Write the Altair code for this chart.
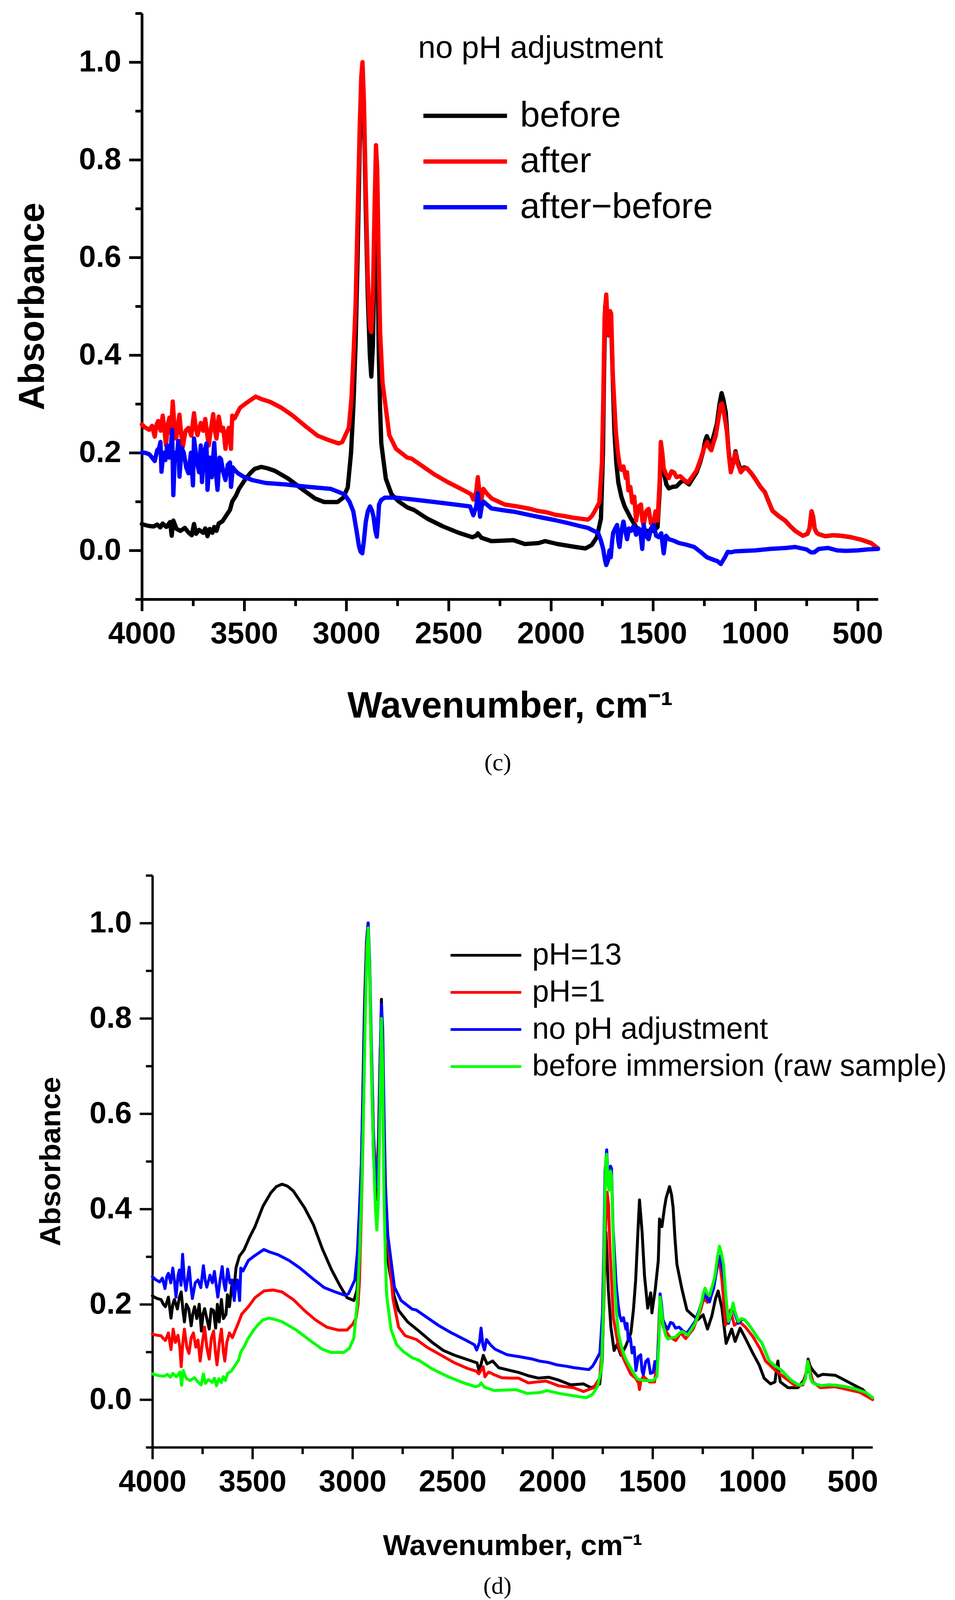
import altair as alt
import pandas as pd

# FTIR spectra: (wavenumber in cm-1, absorbance)
before = [
    (4000, 0.054), (3985, 0.052), (3965, 0.050), (3942, 0.049), (3925, 0.053),
    (3910, 0.047), (3898, 0.055), (3880, 0.048), (3862, 0.058), (3854, 0.030),
    (3846, 0.061), (3830, 0.044), (3811, 0.040), (3790, 0.046), (3770, 0.036),
    (3756, 0.031), (3745, 0.054), (3735, 0.034), (3720, 0.042), (3700, 0.036),
    (3690, 0.045), (3679, 0.029), (3668, 0.044), (3655, 0.036), (3646, 0.048),
    (3635, 0.040), (3624, 0.055), (3605, 0.060), (3591, 0.069), (3569, 0.083),
    (3558, 0.100), (3540, 0.112), (3525, 0.126), (3492, 0.147), (3470, 0.158),
    (3448, 0.167), (3416, 0.171), (3385, 0.168), (3350, 0.163), (3284, 0.147),
    (3218, 0.126), (3152, 0.106), (3108, 0.099), (3043, 0.099), (3015, 0.108),
    (2993, 0.129), (2977, 0.200), (2965, 0.300), (2955, 0.420), (2945, 0.600),
    (2935, 0.820), (2927, 0.950), (2921, 0.990), (2914, 0.900), (2905, 0.700),
    (2895, 0.520), (2885, 0.400), (2878, 0.356), (2870, 0.420), (2862, 0.620),
    (2855, 0.800), (2849, 0.700), (2842, 0.420), (2835, 0.290), (2829, 0.219),
    (2807, 0.147), (2779, 0.115), (2746, 0.101), (2702, 0.088), (2670, 0.083),
    (2604, 0.065), (2527, 0.049), (2450, 0.036), (2384, 0.027), (2365, 0.030),
    (2357, 0.035), (2340, 0.026), (2291, 0.019), (2230, 0.020), (2183, 0.021),
    (2127, 0.013), (2060, 0.015), (2028, 0.019), (1967, 0.013), (1880, 0.007),
    (1831, 0.004), (1800, 0.011), (1775, 0.027), (1755, 0.065), (1745, 0.200),
    (1740, 0.360), (1734, 0.500), (1729, 0.515), (1722, 0.450), (1717, 0.440),
    (1710, 0.480), (1705, 0.470), (1697, 0.350), (1689, 0.243), (1680, 0.180),
    (1670, 0.139), (1655, 0.110), (1639, 0.090), (1608, 0.065), (1577, 0.044),
    (1546, 0.040), (1497, 0.040), (1478, 0.048), (1468, 0.120), (1462, 0.215),
    (1455, 0.190), (1448, 0.160), (1435, 0.135), (1423, 0.127), (1405, 0.130),
    (1386, 0.131), (1365, 0.140), (1349, 0.143), (1324, 0.135), (1305, 0.148),
    (1287, 0.160), (1270, 0.180), (1256, 0.201), (1245, 0.225), (1237, 0.234),
    (1226, 0.222), (1215, 0.218), (1200, 0.240), (1188, 0.259), (1175, 0.300),
    (1165, 0.322), (1157, 0.310), (1145, 0.284), (1132, 0.210), (1120, 0.164),
    (1108, 0.180), (1097, 0.203), (1088, 0.185), (1071, 0.164), (1055, 0.170),
    (1040, 0.168), (1020, 0.158), (1003, 0.148), (975, 0.130), (953, 0.119),
    (935, 0.100), (916, 0.081), (885, 0.070), (854, 0.061), (830, 0.050),
    (805, 0.040), (768, 0.030), (745, 0.034), (735, 0.045), (725, 0.080),
    (718, 0.070), (710, 0.045), (700, 0.036), (688, 0.033), (657, 0.029),
    (620, 0.031), (582, 0.030), (533, 0.027), (483, 0.022), (434, 0.015),
    (400, 0.004),
]

after = [
    (4000, 0.258), (3985, 0.252), (3964, 0.247), (3950, 0.255), (3937, 0.233),
    (3928, 0.258), (3920, 0.265), (3908, 0.245), (3898, 0.276), (3890, 0.250),
    (3882, 0.215), (3872, 0.260), (3865, 0.272), (3857, 0.240), (3849, 0.305),
    (3840, 0.250), (3832, 0.229), (3824, 0.255), (3816, 0.278), (3808, 0.240),
    (3800, 0.212), (3786, 0.245), (3772, 0.251), (3758, 0.235), (3745, 0.281),
    (3736, 0.250), (3728, 0.236), (3712, 0.261), (3700, 0.245), (3690, 0.269),
    (3681, 0.240), (3673, 0.215), (3662, 0.250), (3651, 0.279), (3643, 0.245),
    (3635, 0.229), (3624, 0.274), (3612, 0.245), (3602, 0.251), (3591, 0.208),
    (3583, 0.240), (3575, 0.251), (3564, 0.208), (3558, 0.276), (3547, 0.270),
    (3536, 0.279), (3520, 0.292), (3492, 0.301), (3443, 0.315), (3416, 0.310),
    (3372, 0.304), (3317, 0.292), (3262, 0.276), (3196, 0.253), (3141, 0.235),
    (3087, 0.226), (3037, 0.219), (3020, 0.222), (3010, 0.231), (2988, 0.251),
    (2975, 0.310), (2965, 0.400), (2955, 0.500), (2945, 0.680), (2935, 0.860),
    (2927, 0.970), (2921, 1.000), (2914, 0.920), (2905, 0.740), (2895, 0.560),
    (2885, 0.460), (2878, 0.447), (2870, 0.520), (2862, 0.700), (2855, 0.830),
    (2849, 0.780), (2842, 0.600), (2835, 0.450), (2823, 0.344), (2790, 0.236),
    (2757, 0.208), (2702, 0.190), (2681, 0.188), (2626, 0.172), (2571, 0.156),
    (2505, 0.140), (2439, 0.126), (2390, 0.115), (2379, 0.104), (2365, 0.120),
    (2357, 0.150), (2348, 0.115), (2340, 0.104), (2330, 0.126), (2310, 0.115),
    (2288, 0.106), (2226, 0.094), (2164, 0.090), (2100, 0.085), (2066, 0.081),
    (2020, 0.078), (1979, 0.073), (1930, 0.070), (1893, 0.067), (1818, 0.063),
    (1800, 0.070), (1787, 0.079), (1763, 0.098), (1750, 0.180), (1744, 0.300),
    (1737, 0.480), (1729, 0.524), (1722, 0.460), (1717, 0.440), (1710, 0.490),
    (1705, 0.485), (1697, 0.360), (1682, 0.243), (1672, 0.200), (1664, 0.177),
    (1655, 0.165), (1645, 0.172), (1633, 0.148), (1627, 0.160), (1621, 0.123),
    (1611, 0.130), (1602, 0.098), (1592, 0.110), (1583, 0.061), (1571, 0.090),
    (1559, 0.094), (1552, 0.060), (1546, 0.052), (1534, 0.080), (1522, 0.085),
    (1510, 0.055), (1497, 0.057), (1488, 0.080), (1478, 0.061), (1468, 0.140),
    (1462, 0.222), (1455, 0.200), (1448, 0.168), (1435, 0.155), (1423, 0.148),
    (1410, 0.162), (1398, 0.160), (1385, 0.150), (1367, 0.152), (1350, 0.145),
    (1330, 0.139), (1310, 0.150), (1287, 0.164), (1265, 0.190), (1250, 0.210),
    (1235, 0.222), (1225, 0.210), (1215, 0.205), (1205, 0.220), (1194, 0.234),
    (1180, 0.270), (1170, 0.298), (1163, 0.301), (1155, 0.285), (1145, 0.260),
    (1139, 0.243), (1128, 0.190), (1120, 0.160), (1108, 0.178), (1097, 0.200),
    (1088, 0.180), (1071, 0.160), (1055, 0.168), (1040, 0.168), (1020, 0.158),
    (1003, 0.148), (975, 0.130), (953, 0.119), (935, 0.100), (916, 0.081),
    (885, 0.070), (854, 0.061), (830, 0.050), (805, 0.040), (768, 0.030),
    (745, 0.034), (735, 0.045), (725, 0.080), (718, 0.070), (710, 0.045),
    (700, 0.036), (688, 0.033), (657, 0.029), (620, 0.031), (582, 0.030),
    (533, 0.027), (483, 0.022), (434, 0.015), (400, 0.004),
]

after_minus_before = [
    (4000, 0.200), (3985, 0.200), (3964, 0.197), (3950, 0.190), (3937, 0.183),
    (3925, 0.205), (3915, 0.210), (3909, 0.222), (3904, 0.161), (3895, 0.200),
    (3885, 0.185), (3876, 0.215), (3866, 0.190), (3858, 0.210), (3852, 0.247),
    (3846, 0.113), (3838, 0.200), (3830, 0.185), (3822, 0.224), (3816, 0.151),
    (3805, 0.210), (3795, 0.200), (3783, 0.170), (3772, 0.158), (3760, 0.200),
    (3750, 0.133), (3745, 0.229), (3730, 0.180), (3720, 0.160), (3712, 0.215),
    (3706, 0.140), (3695, 0.200), (3684, 0.219), (3679, 0.124), (3668, 0.190),
    (3658, 0.150), (3646, 0.220), (3638, 0.160), (3630, 0.124), (3620, 0.190),
    (3613, 0.187), (3602, 0.160), (3591, 0.144), (3580, 0.175), (3569, 0.180),
    (3564, 0.130), (3555, 0.170), (3547, 0.165), (3530, 0.158), (3503, 0.151),
    (3460, 0.144), (3394, 0.138), (3295, 0.135), (3185, 0.130), (3076, 0.126),
    (3010, 0.115), (2985, 0.100), (2966, 0.080), (2950, 0.040), (2938, 0.008),
    (2930, -0.003), (2922, -0.006), (2914, 0.020), (2905, 0.058), (2895, 0.080),
    (2884, 0.090), (2875, 0.082), (2867, 0.069), (2858, 0.040), (2851, 0.028),
    (2845, 0.060), (2840, 0.094), (2830, 0.103), (2812, 0.108), (2757, 0.108),
    (2648, 0.103), (2527, 0.097), (2395, 0.090), (2379, 0.072), (2365, 0.090),
    (2357, 0.117), (2346, 0.069), (2338, 0.090), (2330, 0.100), (2291, 0.086),
    (2230, 0.082), (2177, 0.079), (2100, 0.072), (2041, 0.067), (1980, 0.062),
    (1917, 0.056), (1860, 0.050), (1818, 0.046), (1790, 0.040), (1769, 0.036),
    (1755, 0.020), (1744, 0.003), (1735, -0.020), (1729, -0.030), (1720, -0.020),
    (1713, 0.000), (1707, -0.014), (1700, 0.020), (1695, 0.036), (1685, 0.045),
    (1676, 0.052), (1670, 0.020), (1664, 0.007), (1655, 0.040), (1645, 0.059),
    (1636, 0.040), (1627, 0.023), (1618, 0.045), (1608, 0.040), (1595, 0.050),
    (1583, 0.032), (1570, 0.045), (1560, 0.030), (1553, 0.003), (1546, 0.052),
    (1535, 0.030), (1522, 0.023), (1510, 0.045), (1497, 0.052), (1485, 0.030),
    (1472, 0.027), (1460, 0.035), (1448, -0.006), (1437, 0.030), (1423, 0.023),
    (1400, 0.020), (1373, 0.015), (1340, 0.012), (1299, 0.007), (1265, -0.004),
    (1237, -0.014), (1200, -0.020), (1185, -0.022), (1169, -0.028), (1150, -0.015),
    (1135, -0.003), (1120, -0.004), (1100, -0.002), (1052, -0.001), (1000, 0.000),
    (928, 0.003), (850, 0.005), (805, 0.007), (750, 0.002), (728, -0.004),
    (712, -0.004), (690, 0.003), (644, 0.005), (600, 0.000), (558, -0.001),
    (500, 0.000), (450, 0.002), (400, 0.003),
]

ph13 = [
    (4000, 0.218), (3990, 0.215), (3975, 0.212), (3957, 0.210), (3945, 0.200),
    (3935, 0.195), (3920, 0.215), (3907, 0.171), (3898, 0.200), (3890, 0.210),
    (3875, 0.190), (3865, 0.215), (3856, 0.226), (3848, 0.190), (3840, 0.163),
    (3830, 0.200), (3818, 0.190), (3806, 0.155), (3798, 0.180), (3789, 0.195),
    (3778, 0.170), (3766, 0.200), (3755, 0.144), (3747, 0.180), (3739, 0.191),
    (3728, 0.170), (3716, 0.148), (3706, 0.190), (3694, 0.187), (3684, 0.150),
    (3675, 0.200), (3666, 0.163), (3655, 0.210), (3645, 0.170), (3632, 0.179),
    (3625, 0.220), (3615, 0.195), (3600, 0.250), (3590, 0.240), (3582, 0.277),
    (3565, 0.301), (3542, 0.314), (3515, 0.340), (3487, 0.363), (3447, 0.406),
    (3408, 0.434), (3380, 0.447), (3352, 0.452), (3325, 0.448), (3296, 0.438),
    (3240, 0.403), (3195, 0.367), (3150, 0.316), (3105, 0.273), (3061, 0.238),
    (3027, 0.214), (2993, 0.208), (2977, 0.230), (2968, 0.290), (2960, 0.400),
    (2950, 0.600), (2940, 0.820), (2930, 0.960), (2922, 1.000), (2914, 0.900),
    (2905, 0.700), (2895, 0.520), (2885, 0.430), (2878, 0.420), (2870, 0.500),
    (2862, 0.700), (2855, 0.840), (2849, 0.720), (2842, 0.450), (2836, 0.328),
    (2814, 0.269), (2792, 0.218), (2769, 0.187), (2724, 0.163), (2668, 0.144),
    (2601, 0.120), (2545, 0.103), (2489, 0.093), (2433, 0.085), (2377, 0.077),
    (2366, 0.059), (2346, 0.093), (2327, 0.075), (2299, 0.081), (2269, 0.067),
    (2220, 0.062), (2169, 0.057), (2120, 0.050), (2070, 0.045), (2020, 0.047),
    (1970, 0.041), (1908, 0.031), (1845, 0.033), (1808, 0.025), (1775, 0.030),
    (1764, 0.033), (1752, 0.080), (1743, 0.212), (1737, 0.330), (1733, 0.351),
    (1727, 0.300), (1721, 0.232), (1708, 0.152), (1692, 0.103), (1677, 0.116),
    (1658, 0.093), (1633, 0.113), (1608, 0.140), (1595, 0.190), (1584, 0.252),
    (1572, 0.360), (1565, 0.419), (1552, 0.351), (1540, 0.260), (1524, 0.192),
    (1509, 0.224), (1503, 0.182), (1486, 0.232), (1471, 0.292), (1465, 0.379),
    (1453, 0.363), (1440, 0.403), (1432, 0.423), (1415, 0.447), (1405, 0.430),
    (1397, 0.403), (1388, 0.340), (1378, 0.284), (1353, 0.232), (1328, 0.188),
    (1297, 0.176), (1272, 0.168), (1247, 0.178), (1225, 0.148), (1203, 0.176),
    (1185, 0.212), (1172, 0.228), (1153, 0.192), (1132, 0.118), (1104, 0.148),
    (1087, 0.122), (1062, 0.150), (1035, 0.128), (998, 0.097), (967, 0.073),
    (942, 0.045), (910, 0.033), (888, 0.037), (878, 0.070), (873, 0.081),
    (866, 0.050), (861, 0.037), (823, 0.025), (773, 0.025), (745, 0.040),
    (730, 0.057), (722, 0.085), (712, 0.070), (698, 0.061), (673, 0.049),
    (649, 0.053), (586, 0.051), (549, 0.043), (486, 0.029), (449, 0.021),
    (400, 0.000),
]

ph1 = [
    (4000, 0.138), (3990, 0.136), (3975, 0.135), (3957, 0.134), (3945, 0.128),
    (3935, 0.124), (3920, 0.140), (3907, 0.105), (3896, 0.148), (3885, 0.120),
    (3872, 0.135), (3863, 0.110), (3856, 0.069), (3848, 0.120), (3840, 0.148),
    (3828, 0.110), (3817, 0.097), (3806, 0.130), (3795, 0.140), (3783, 0.110),
    (3772, 0.125), (3761, 0.081), (3750, 0.120), (3739, 0.152), (3728, 0.110),
    (3716, 0.085), (3705, 0.130), (3694, 0.144), (3685, 0.100), (3677, 0.073),
    (3665, 0.120), (3655, 0.148), (3645, 0.100), (3638, 0.081), (3628, 0.120),
    (3615, 0.140), (3600, 0.130), (3587, 0.144), (3571, 0.160), (3554, 0.179),
    (3520, 0.195), (3487, 0.214), (3442, 0.228), (3397, 0.230), (3352, 0.226),
    (3296, 0.210), (3240, 0.187), (3184, 0.167), (3128, 0.152), (3072, 0.146),
    (3027, 0.146), (2999, 0.158), (2982, 0.171), (2972, 0.200), (2965, 0.250),
    (2955, 0.400), (2947, 0.550), (2938, 0.780), (2930, 0.950), (2922, 1.000),
    (2914, 0.900), (2905, 0.720), (2895, 0.560), (2885, 0.480), (2878, 0.470),
    (2870, 0.550), (2862, 0.720), (2855, 0.800), (2849, 0.700), (2840, 0.500),
    (2830, 0.380), (2814, 0.289), (2797, 0.210), (2769, 0.152), (2736, 0.134),
    (2680, 0.126), (2624, 0.109), (2556, 0.093), (2489, 0.077), (2422, 0.065),
    (2383, 0.060), (2368, 0.054), (2346, 0.069), (2338, 0.048), (2319, 0.058),
    (2290, 0.052), (2254, 0.046), (2200, 0.045), (2169, 0.045), (2120, 0.035),
    (2080, 0.037), (2032, 0.039), (1970, 0.029), (1895, 0.025), (1845, 0.017),
    (1795, 0.025), (1764, 0.045), (1750, 0.120), (1743, 0.212), (1735, 0.360),
    (1727, 0.435), (1720, 0.410), (1714, 0.331), (1696, 0.172), (1671, 0.113),
    (1640, 0.081), (1608, 0.053), (1584, 0.045), (1570, 0.035), (1565, 0.021),
    (1558, 0.040), (1546, 0.049), (1515, 0.037), (1490, 0.037), (1475, 0.080),
    (1465, 0.192), (1456, 0.170), (1446, 0.152), (1415, 0.132), (1384, 0.124),
    (1359, 0.140), (1334, 0.128), (1297, 0.148), (1259, 0.188), (1244, 0.212),
    (1225, 0.204), (1197, 0.236), (1178, 0.284), (1169, 0.300), (1153, 0.252),
    (1135, 0.156), (1110, 0.188), (1091, 0.156), (1066, 0.164), (1035, 0.152),
    (998, 0.132), (960, 0.105), (935, 0.081), (885, 0.061), (836, 0.045),
    (786, 0.029), (748, 0.031), (730, 0.060), (722, 0.081), (712, 0.060),
    (698, 0.037), (661, 0.025), (586, 0.027), (524, 0.021), (462, 0.015),
    (400, 0.000),
]

names_c = ["before", "after", "after\u2212before"]
names_d = ["pH=13", "pH=1", "no pH adjustment", "before immersion (raw sample)"]
colors_c = ["#000000", "#ff0000", "#0000ff"]
colors_d = ["#000000", "#ff0000", "#0000ff", "#00ff00"]

x_major = [4000, 3500, 3000, 2500, 2000, 1500, 1000, 500]
x_minor = [3750, 3250, 2750, 2250, 1750, 1250, 750]
y_major = [0.0, 0.2, 0.4, 0.6, 0.8, 1.0]
y_minor = [-0.1, 0.1, 0.3, 0.5, 0.7, 0.9, 1.1]

FONT = "Liberation Sans"
# a legend swatch four times wider than its (small) layout box, so the
# legend rows can sit close together while the sample lines stay long
WIDE_STROKE = "M-4,0H4"


def spectra(series):
    rows = []
    for name, points in series:
        for wn, a in points:
            rows.append({"wavenumber": wn, "absorbance": a, "series": name})
    return pd.DataFrame(rows)


def panel(df, names, colors, width, height, x_range, y_off, line_w, axis_w,
          x_title_size, y_title_size, x_title_pad, y_title_x, legend, caption):
    xs = alt.Scale(domain=[4000, 400], nice=False, zero=False, **x_range)
    ys = alt.Scale(domain=[-0.1, 1.1], nice=False, zero=False)
    common = dict(grid=False, domainColor="black", tickColor="black",
                  tickWidth=axis_w, labelColor="black", titleColor="black")

    lines = alt.Chart(df).mark_line(
        strokeWidth=line_w, strokeJoin="round", strokeCap="round"
    ).encode(
        x=alt.X("wavenumber:Q", scale=xs, axis=alt.Axis(
            values=x_major, format="d", orient="bottom", tickSize=30,
            domainWidth=axis_w, labelFont=FONT, labelFontWeight="bold",
            labelFontSize=78, labelPadding=20, labelFlush=False,
            labelOverlap=False, title="Wavenumber, cm\u207b\u00b9",
            titleFont=FONT, titleFontWeight="bold",
            titleFontSize=x_title_size, titlePadding=x_title_pad, **common)),
        y=alt.Y("absorbance:Q", scale=ys, axis=alt.Axis(
            values=y_major, format=".1f", orient="left", tickSize=33,
            offset=y_off, domainWidth=axis_w, labelFont=FONT,
            labelFontWeight="bold", labelFontSize=78, labelPadding=20,
            labelFlush=False, labelOverlap=False, title="Absorbance",
            titleFont=FONT, titleFontWeight="bold", titleFontSize=y_title_size,
            titleX=y_title_x, **common)),
        color=alt.Color("series:N", scale=alt.Scale(domain=names, range=colors),
                        legend=legend),
    )

    # short minor ticks between the labelled ones
    minor = alt.Chart(df).mark_line(opacity=0).encode(
        x=alt.X("wavenumber:Q", scale=xs, axis=alt.Axis(
            values=x_minor, orient="bottom", tickSize=17, labels=False,
            domain=False, title=None, **common)),
        y=alt.Y("absorbance:Q", scale=ys, axis=alt.Axis(
            values=y_minor, orient="left", tickSize=17, labels=False,
            domain=False, offset=y_off, title=None, **common)),
    )

    return alt.layer(lines, minor).resolve_axis(
        x="independent", y="independent"
    ).properties(width=width, height=height, title=caption)


df_c = spectra(zip(names_c, [before, after, after_minus_before]))
df_d = spectra(zip(names_d, [ph13, ph1, after, before]))

legend_c = alt.Legend(
    title="no pH adjustment", orient="none", legendX=707, legendY=51,
    direction="vertical", symbolType=WIDE_STROKE, symbolSize=53.5 ** 2,
    symbolStrokeWidth=11, symbolOffset=75, labelOffset=95,
    labelFont=FONT, labelFontSize=91, labelColor="black", labelLimit=3000,
    titleFont=FONT, titleFontSize=80, titleFontWeight="normal",
    titleColor="black", titleLimit=3000, titlePadding=86, rowPadding=25,
    padding=0,
)
legend_d = alt.Legend(
    title=None, orient="none", legendX=799, legendY=166,
    direction="vertical", symbolType=WIDE_STROKE, symbolSize=45.25 ** 2,
    symbolStrokeWidth=7, symbolOffset=43, labelOffset=80, labelFont=FONT,
    labelFontSize=77, labelColor="black", labelLimit=3000, rowPadding=17,
    padding=0,
)

panel_c = panel(
    df_c, names_c, colors_c, 1884, 1500, {}, 0, 11, 7, 94, 92, 100, -233,
    legend_c,
    alt.TitleParams("(c)", orient="bottom", frame="group", anchor="middle",
                    font="Liberation Serif", fontSize=62, fontWeight="normal",
                    color="black", offset=68, dx=-31),
)
panel_d = panel(
    df_d, names_d, colors_d, 1870, 1464, {"range": [27, 1870]}, -27, 7.5, 6,
    75, 75, 88, -221, legend_d,
    alt.TitleParams("(d)", orient="bottom", frame="group", anchor="middle",
                    font="Liberation Serif", fontSize=62, fontWeight="normal",
                    color="black", offset=36, dx=-25),
)

chart = alt.vconcat(panel_c, panel_d, spacing=254).resolve_scale(
    color="independent"
).properties(
    padding={"left": 29, "top": 22, "right": 0, "bottom": 0}
).configure_view(
    stroke=None
)

chart.save("out.html", embed_options={"renderer": "svg", "actions": False})
